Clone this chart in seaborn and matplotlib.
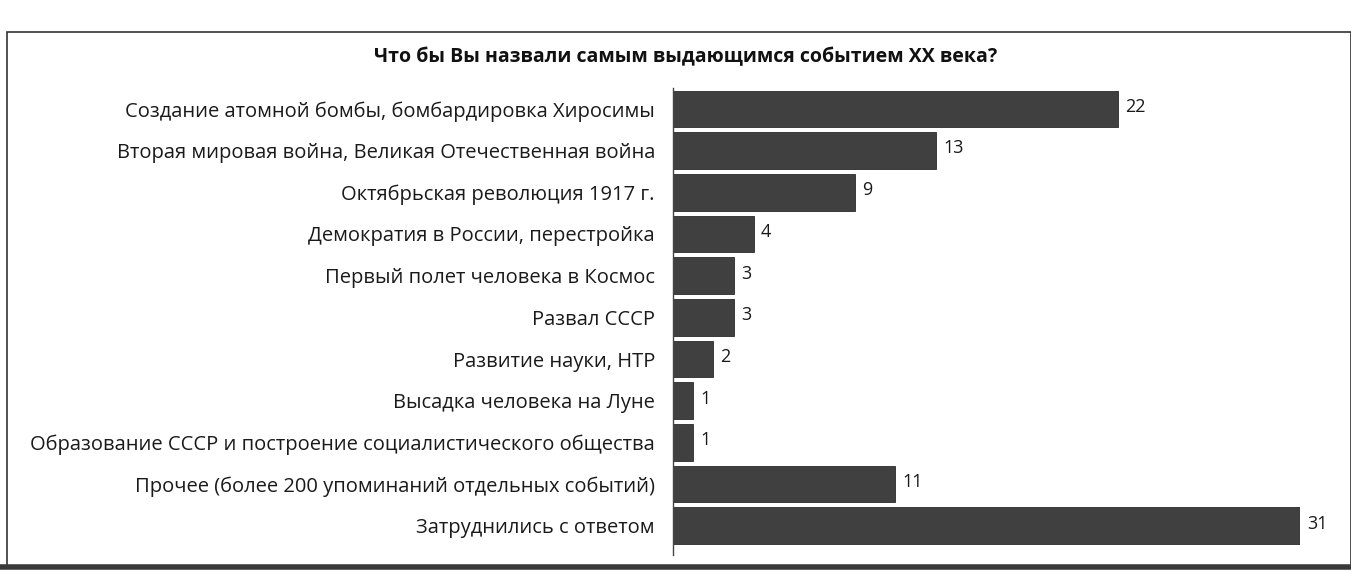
import matplotlib
matplotlib.use("Agg")
import matplotlib.pyplot as plt
import pandas as pd
import seaborn as sns
from matplotlib.lines import Line2D
from matplotlib.patches import Rectangle

categories = [
    "Создание атомной бомбы, бомбардировка Хиросимы",
    "Вторая мировая война, Великая Отечественная война",
    "Октябрьская революция 1917 г.",
    "Демократия в России, перестройка",
    "Первый полет человека в Космос",
    "Развал СССР",
    "Развитие науки, НТР",
    "Высадка человека на Луне",
    "Образование СССР и построение социалистического общества",
    "Прочее (более 200 упоминаний отдельных событий)",
    "Затруднились с ответом",
]
values = [22, 13, 9, 4, 3, 3, 2, 1, 1, 11, 31]
title = "Что бы Вы назвали самым выдающимся событием XX века?"

df = pd.DataFrame({"event": categories, "share": values})

sns.set_theme(style="white")
plt.rcParams["font.family"] = ["Open Sans", "DejaVu Sans"]

W, H = 1351, 581
fig = plt.figure(figsize=(W / 100, H / 100), dpi=100)

# axes placed so that 0 sits on the drawn axis line
left, right, top, bottom = 673, 1300, 88, 555
ax = fig.add_axes([left / W, 1 - bottom / H, (right - left) / W, (bottom - top) / H])

sns.barplot(data=df, x="share", y="event", orient="h", color="#404040",
            width=0.88, saturation=1, edgecolor="#2a2a2a", linewidth=0.6, ax=ax)

ax.set_xlim(0, 31)
ax.set_ylim(len(categories) - 0.3, -0.5)
ax.set_xlabel("")
ax.set_ylabel("")
ax.set_xticks([])
for s in ["top", "right", "bottom"]:
    ax.spines[s].set_visible(False)
ax.spines["left"].set_color("#444444")
ax.spines["left"].set_linewidth(1.0)
ax.tick_params(axis="y", length=0, pad=13, labelsize=14.5, labelcolor="#1a1a1a")

for i, v in enumerate(values):
    ax.text(v + 0.35, i - 0.05, str(v), va="center", ha="left",
            fontsize=13, color="#1a1a1a", clip_on=False)

fig.text(686 / W, 1 - 57 / H, title, ha="center", va="center",
         fontsize=14, fontweight="bold", color="#111111")

# scanned frame around the chart
fig.patches.append(Rectangle((7 / W, 1 - 567 / H), (W - 7) / W, (567 - 32) / H,
                             transform=fig.transFigure, fill=False,
                             edgecolor="#333333", linewidth=1.2))
fig.lines.append(Line2D([0, 1], [1 - 567 / H, 1 - 567 / H], transform=fig.transFigure,
                        color="#3a3a3a", linewidth=4))

fig.savefig("out.png", dpi=100)
